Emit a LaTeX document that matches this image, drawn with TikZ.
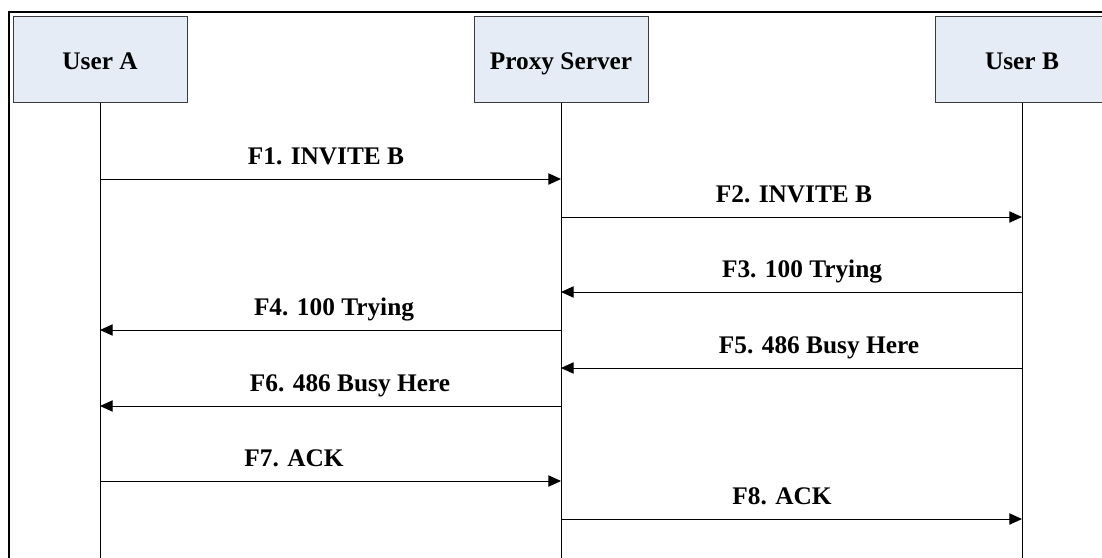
\documentclass[tikz,border=0pt]{standalone}
\usepackage{fontspec}
\setmainfont{Liberation Serif}
\usetikzlibrary{positioning,arrows.meta}
\definecolor{ink}{HTML}{000000}
\definecolor{edge}{HTML}{3A3A3A}
\definecolor{boxfill}{HTML}{E5ECF6}
\tikzset{
  party/.style={draw=edge, line width=0.75pt, fill=boxfill, align=center,
                font=\fontsize{19}{22}\selectfont\bfseries, inner sep=0pt,
                text height=17pt, text depth=2pt,
                minimum width=130.5pt, minimum height=64.5pt},
  life/.style={draw=ink, line width=0.75pt},
  msg/.style={-{Triangle[length=9.5pt,width=8.5pt]}, line width=0.75pt, draw=ink},
  msglbl/.style={font=\fontsize{19}{22}\selectfont\bfseries, anchor=base, inner sep=0pt},
  frame/.style={draw=ink, line width=1.5pt},
}

\begin{document}
\begin{tikzpicture}[x=0.75pt,y=-0.75pt]
\useasboundingbox (0,0) rectangle (1102,557);
\begin{scope}
  \clip (0,0) rectangle (1102,557);
  % outer frame (runs off the page right and below)
  \coordinate (fbot) at (9,600);
  \coordinate (ftop) at (1150,12);
  \draw[frame] (fbot) |- (ftop);
  % parties
  \node[party] (ua) at (100,59) {User A};
  \node[party] (ps) at (561,59) {Proxy Server};
  \node[party] (ub) at (1022,59) {User B};
  % lifelines
  \coordinate (bot) at (0,560);
  \foreach \p in {ua,ps,ub}{ \draw[life] (\p.south) -- (\p |- bot); }
  % messages
  \foreach \n/\src/\dst/\y/\cx/\lbl in {
      1/ua/ps/179/326/{F1. INVITE B},
      2/ps/ub/217/794/{F2. INVITE B},
      3/ub/ps/292/802/{F3. 100 Trying},
      4/ps/ua/330/334/{F4. 100 Trying},
      5/ub/ps/368/819/{F5. 486 Busy Here},
      6/ps/ua/406/350/{F6. 486 Busy Here},
      7/ua/ps/481/294/{F7. ACK},
      8/ps/ub/519/782/{F8. ACK}}{
    \coordinate (r\n) at (0,\y);
    \draw[msg] (\src |- r\n) -- (\dst |- r\n);
    \node[msglbl] (m\n) at (\cx,\y-15) {\lbl};
  }
\end{scope}
\end{tikzpicture}
\end{document}
